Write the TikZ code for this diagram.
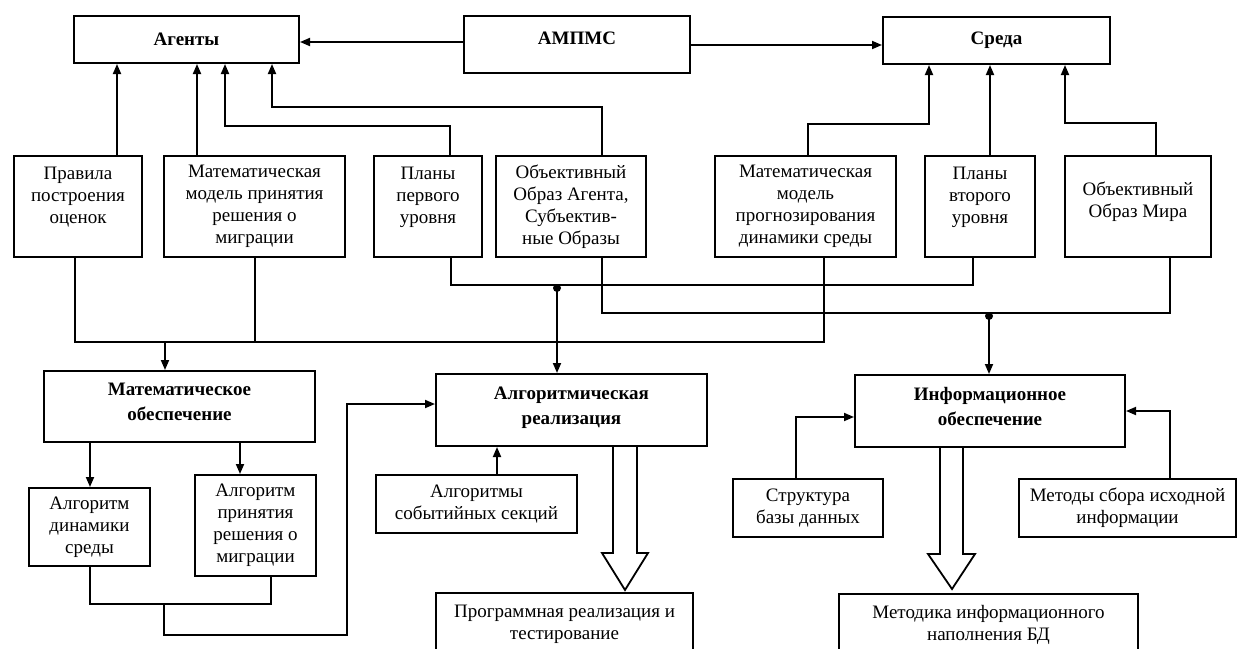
\documentclass[tikz,border=0pt]{standalone}
\usepackage{fontspec}
\setmainfont{Liberation Serif}
\usetikzlibrary{arrows.meta}
\begin{document}
\begin{tikzpicture}[x=1pt,y=-1pt,
  box/.style={draw, line width=2pt, fill=white, inner sep=1pt, align=center, font=\fontsize{19}{22}\selectfont},
  tbox/.style={box, font=\fontsize{19}{25}\selectfont\bfseries},
  con/.style={line width=1.8pt, line join=miter},
  arr/.style={con, -{Triangle[length=10pt,width=8pt]}},
  hollow/.style={draw, line width=1.8pt, fill=white, line join=miter}]
\useasboundingbox (0,0) rectangle (1238,648);
\clip (0,0) rectangle (1238,648);
% top row
\node[tbox, minimum width=225pt, minimum height=47pt] (ag) at (186.5,39.5) {Агенты};
\node[tbox, minimum width=226pt, minimum height=57pt] (ampms) at (577,44.5) {АМПМС\\[-12pt]\ };
\node[tbox, minimum width=227pt, minimum height=47pt] (sreda) at (996.5,40.5) {Среда};
% middle row
\node[box, minimum width=128pt, minimum height=101pt] (pravila) at (78,206.5) {Правила\\построения\\оценок\\ };
\node[box, minimum width=181pt, minimum height=101pt] (mmpr) at (254.5,206.5) {Математическая\\модель принятия\\решения о\\миграции};
\node[box, minimum width=108pt, minimum height=101pt] (plan1) at (428,206.5) {Планы\\первого\\уровня\\ };
\node[box, minimum width=150pt, minimum height=101pt] (obraza) at (571,206.5) {Объективный\\Образ Агента,\\Субъектив-\\ные Образы};
\node[box, minimum width=181pt, minimum height=101pt] (mmdyn) at (805.5,206.5) {Математическая\\модель\\прогнозирования\\динамики среды};
\node[box, minimum width=110pt, minimum height=101pt] (plan2) at (980,206.5) {Планы\\второго\\уровня\\ };
\node[box, minimum width=146pt, minimum height=101pt] (obrazm) at (1138,206.5) {\ \\Объективный\\Образ Мира\\ };
% lower row
\node[tbox, minimum width=271pt, minimum height=71pt] (matob) at (179.5,406.5) {Математическое\\обеспечение\\[-16pt]\ };
\node[tbox, minimum width=271pt, minimum height=72pt] (alg) at (571.5,410) {Алгоритмическая\\реализация\\[-16pt]\ };
\node[tbox, minimum width=270pt, minimum height=72pt] (info) at (990,411) {Информационное\\обеспечение\\[-16pt]\ };
\node[box, minimum width=121pt, minimum height=78pt] (adyn) at (89.5,527) {Алгоритм\\динамики\\среды};
\node[box, minimum width=121pt, minimum height=101pt] (aprin) at (255.5,525.5) {Алгоритм\\принятия\\решения о\\миграции};
\node[box, minimum width=201pt, minimum height=58pt] (asob) at (476.5,504) {Алгоритмы\\событийных секций};
\node[box, minimum width=150pt, minimum height=58pt] (strukt) at (808,508) {Структура\\базы данных};
\node[box, minimum width=217pt, minimum height=58pt] (metsb) at (1127.5,508) {Методы сбора исходной\\информации};
\node[box, minimum width=257pt, minimum height=80pt] (prog) at (564.5,633) {Программная реализация и\\тестирование\\ };
\node[box, minimum width=299pt, minimum height=80pt] (metod) at (988.5,633.5) {Методика информационного\\наполнения БД\\ };
% top connectors
\draw[arr] (ampms.west |- 0,42) -- (ag.east |- 0,42);
\draw[arr] (ampms.east |- 0,45) -- (sreda.west |- 0,45);
\draw[arr] (117,0 |- pravila.north) -- (117,0 |- ag.south);
\draw[arr] (197,0 |- mmpr.north) -- (197,0 |- ag.south);
\draw[arr] (450,0 |- plan1.north) -- (450,126) -- (225,126) -- (225,0 |- ag.south);
\draw[arr] (602,0 |- obraza.north) -- (602,107) -- (272,107) -- (272,0 |- ag.south);
\draw[arr] (808,0 |- mmdyn.north) -- (808,124) -- (929,124) -- (929,0 |- sreda.south);
\draw[arr] (990,0 |- plan2.north) -- (990,0 |- sreda.south);
\draw[arr] (1156,0 |- obrazm.north) -- (1156,123) -- (1065,123) -- (1065,0 |- sreda.south);
% buses
\draw[con] (75,0 |- pravila.south) -- (75,342) -- (824,342) -- (824,0 |- mmdyn.south);
\draw[con] (255,0 |- mmpr.south) -- (255,342);
\coordinate (j0) at (165,342);
\draw[arr] (j0) -- (j0 |- matob.north);
\draw[con] (451,0 |- plan1.south) -- (451,285) -- (973,285) -- (973,0 |- plan2.south);
\coordinate (j1) at (557,285);
\fill (557,288) circle (4pt);
\draw[arr] (j1) -- (j1 |- alg.north);
\draw[con] (602,0 |- obraza.south) -- (602,313) -- (1170,313) -- (1170,0 |- obrazm.south);
\coordinate (j2) at (989,313);
\fill (989,316) circle (4pt);
\draw[arr] (j2) -- (j2 |- info.north);
% lower connectors
\draw[arr] (90,0 |- matob.south) -- (90,0 |- adyn.north);
\draw[arr] (240,0 |- matob.south) -- (240,0 |- aprin.north);
\draw[con] (90,0 |- adyn.south) -- (90,604) -- (271,604) -- (271,0 |- aprin.south);
\coordinate (j3) at (164,604);
\draw[arr] (j3) -- (164,635) -- (347,635) -- (347,404) -- (alg.west |- 0,404);
\draw[arr] (497,0 |- asob.north) -- (497,0 |- alg.south);
\draw[arr] (796,0 |- strukt.north) -- (796,417) -- (info.west |- 0,417);
\draw[arr] (1170,0 |- metsb.north) -- (1170,411) -- (info.east |- 0,411);
% hollow arrows
\draw[hollow] (613,0 |- alg.south) -- (613,553) -- (602,553) -- (625,590) -- (648,553) -- (637,553) -- (637,0 |- alg.south);
\draw[hollow] (940,0 |- info.south) -- (940,554) -- (928,554) -- (952,589) -- (975,554) -- (963,554) -- (963,0 |- info.south);
\end{tikzpicture}
\end{document}
